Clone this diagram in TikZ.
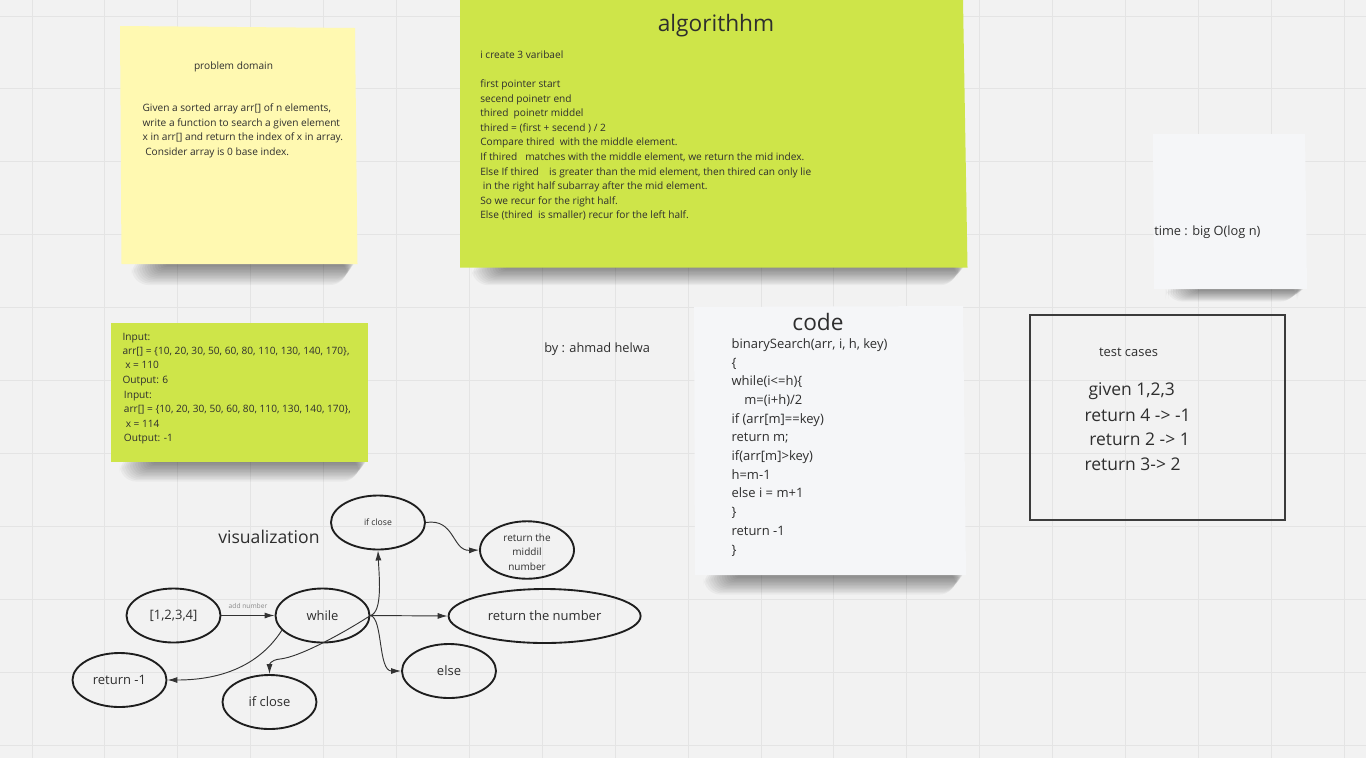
\documentclass[tikz,border=0pt]{standalone}
\usepackage{fontspec}
\setmainfont{Open Sans}
\usetikzlibrary{shapes.geometric,arrows.meta}
\definecolor{bgc}{HTML}{F2F2F2}
\definecolor{gridc}{HTML}{E4E4E4}
\definecolor{yellowS}{HTML}{FFF9B1}
\definecolor{greenS}{HTML}{CEE549}
\definecolor{whiteS}{HTML}{F5F6F8}
\definecolor{txtc}{HTML}{2E2E2E}
\definecolor{ellc}{HTML}{1E1E1E}
\definecolor{connc}{HTML}{333333}
\definecolor{boxc}{HTML}{3C3C3C}
\definecolor{lblc}{HTML}{8A8A8A}
\begin{document}
\begin{tikzpicture}[x=0.75pt,y=-0.75pt,
  line/.style={inner sep=0pt, text=txtc, anchor=mid west, font=\fontsize{7.6}{9}\selectfont},
  codeline/.style={inner sep=0pt, text=txtc, anchor=mid west, font=\fontsize{9.75}{11}\selectfont},
  caseline/.style={inner sep=0pt, text=txtc, anchor=mid west, font=\fontsize{13.1}{15}\selectfont},
  ttl/.style={inner sep=0pt, text=txtc, anchor=mid, font=\fontsize{17}{20}\selectfont},
  ell/.style={ellipse, draw=ellc, line width=1.4pt, minimum width=70.5pt, minimum height=40.5pt,
    inner sep=0pt, text=txtc, font=\fontsize{9.75}{12}\selectfont},
  conn/.style={draw=connc, line width=0.7pt, -{Latex[length=7.5pt,width=4.5pt]}},
  shd/.style={black, opacity=0.035}
]
\useasboundingbox (0,0) rectangle (1366,758);
\fill[bgc] (0,0) rectangle (1366,758);
% grid
\foreach \i in {0,...,18} \draw[gridc, line width=0.75pt] ({32+72.9*\i},0) -- ({32+72.9*\i},758);
\foreach \j in {0,...,10} \draw[gridc, line width=0.75pt] (0,{16+72.9*\j}) -- (1366,{16+72.9*\j});

% soft shadows under the stickies
\foreach \xa/\xb/\yb/\h in {128/354/264/1.5, 468/964/267/1.3, 116/366/462/1.4, 700/963/575/1.4, 1162/1304/289/0.9}
  \foreach \k in {1,...,14}
    \fill[shd, rounded corners={\k*0.9pt}] ({\xa+40-\k*2.6},{\yb-6}) rectangle ({\xb-\k*0.5},{\yb+\k*\h});

% stickies
\fill[yellowS] (120,26) -- (355,28) -- (357.5,264) -- (121.5,264) -- cycle;
\fill[greenS] (460,0) -- (963,0) -- (967.5,267.5) -- (460,267.5) -- cycle;
\fill[greenS] (110.5,323) -- (367.5,323) -- (367.5,462) -- (110.5,462) -- cycle;
\fill[whiteS] (694,307) -- (963,306) -- (966,575) -- (695,575) -- cycle;
\fill[whiteS] (1153,134) -- (1305,134) -- (1307,289) -- (1154,289) -- cycle;

% problem domain
\node[line, anchor=mid] (pdt) at (233.5,66) {problem domain};
\node[line] (pd1) at (142.3,108) {Given a sorted array arr[] of n elements,};
\node[line] (pd2) at (142.3,122.8) {write a function to search a given element};
\node[line] (pd3) at (142.3,137.1) {x in arr[] and return the index of x in array.};
\node[line] (pd4) at (145,151.8) {Consider array is 0 base index.};

% algorithm
\node[ttl] (algt) at (716,28) {algorithhm};
\node[line] (al1) at (480,54.8) {i create 3 varibael};
\node[line] (al2) at (480,84) {first pointer start};
\node[line] (al3) at (480,99.2) {secend poinetr end};
\node[line] (al4) at (480,113.2) {thired\ \ poinetr middel};
\node[line] (al5) at (480,127.8) {thired = (first + secend ) / 2};
\node[line] (al6) at (480,142.2) {Compare thired\ \ with the middle element.};
\node[line] (al7) at (480,157.2) {If thired\ \ \ matches with the middle element, we return the mid index.};
\node[line] (al8) at (480,172) {Else If thired\ \ \ \ is greater than the mid element, then thired can only lie};
\node[line] (al9) at (482.7,186.2) {in the right half subarray after the mid element.};
\node[line] (al10) at (480,200.8) {So we recur for the right half.};
\node[line] (al11) at (480,214.8) {Else (thired\ \ is smaller) recur for the left half.};

% input / output
\node[line] (io1) at (122.3,336.5) {Input:};
\node[line] (io2) at (122.3,351.2) {arr[] = \{10, 20, 30, 50, 60, 80, 110, 130, 140, 170\},};
\node[line] (io3) at (125,365.2) {x = 110};
\node[line] (io4) at (122.3,379.8) {Output: 6};
\node[line] (io5) at (123.7,394.5) {Input:};
\node[line] (io6) at (123.7,409.2) {arr[] = \{10, 20, 30, 50, 60, 80, 110, 130, 140, 170\},};
\node[line] (io7) at (125.5,423.8) {x = 114};
\node[line] (io8) at (123.7,438.2) {Output: -1};

% author
\node[line, font=\fontsize{9.6}{11}\selectfont] (auth) at (544,349) {by : ahmad helwa};

% code
\node[ttl] (codet) at (818,326.5) {code};
\node[codeline] (c1) at (731.3,345.3) {binarySearch(arr, i, h, key)};
\node[codeline] (c2) at (731.3,364) {\{};
\node[codeline] (c3) at (731.3,382) {while(i<=h)\{};
\node[codeline] (c4) at (744,401) {m=(i+h)/2};
\node[codeline] (c5) at (731.3,420) {if (arr[m]==key)};
\node[codeline] (c6) at (731.3,438) {return m;};
\node[codeline] (c7) at (731.3,457) {if(arr[m]>key)};
\node[codeline] (c8) at (731.3,475.7) {h=m-1};
\node[codeline] (c9) at (731.3,494) {else i = m+1};
\node[codeline] (c10) at (731.3,513) {\}};
\node[codeline] (c11) at (731.3,531.5) {return -1};
\node[codeline] (c12) at (731.3,550.5) {\}};

% time
\node[line, font=\fontsize{9.6}{11}\selectfont] (time) at (1154,232) {time : big O(log n)};

% test cases
\draw[boxc, line width=1.5pt] (1030,315) rectangle (1285,520);
\node[line, anchor=mid, font=\fontsize{9.7}{11}\selectfont] (tct) at (1128.5,353) {test cases};
\node[caseline] (tc1) at (1088.3,392) {given 1,2,3};
\node[caseline] (tc2) at (1084.3,417.5) {return 4 -> -1};
\node[caseline] (tc3) at (1089,442) {return 2 -> 1};
\node[caseline] (tc4) at (1084.3,467) {return 3-> 2};

% visualization
\node[line, font=\fontsize{13.2}{15}\selectfont] (vis) at (218,540) {visualization};

\node[ell] (arr) at (173.5,615.5) {[1,2,3,4]};
\node[ell] (while) at (322.5,615.5) {while};
\node[ell, font=\fontsize{6.5}{8}\selectfont] (iftop) at (378,522.5) {if close};
\node[ell, align=center, font=\fontsize{7.5}{10.7}\selectfont] (rmid) at (527,550) {\rule{0pt}{9pt}return the\\middil\\number};
\node[ell, minimum width=144pt] (rnum) at (544.6,616) {return the number};
\node[ell] (else) at (449,671) {else};
\node[ell] (ifbot) at (269.5,702) {if close};
\node[ell] (rm1) at (119.5,680) {return -1};

\draw[conn] (arr) -- node[above=4.5pt, inner sep=0pt, text=lblc, font=\fontsize{5}{6}\selectfont] (addl) {add number} (while);
\draw[conn] (while.east) .. controls (383,612) and (379,575) .. (iftop.south);
\draw[conn] (while.east) -- (rnum.west);
\draw[conn] (while.east) .. controls (383,618) and (378,671) .. (else.west);
\draw[conn] (while.east) .. controls (345,632) and (300,657) .. (280,659) .. controls (270,660) and (269.5,665) .. (ifbot.north);
\draw[conn] (while.200) .. controls (255,672) and (210,680) .. (rm1.east);
\draw[conn] (iftop.east) .. controls (455,518) and (452,551) .. (rmid.west);
\end{tikzpicture}
\end{document}
